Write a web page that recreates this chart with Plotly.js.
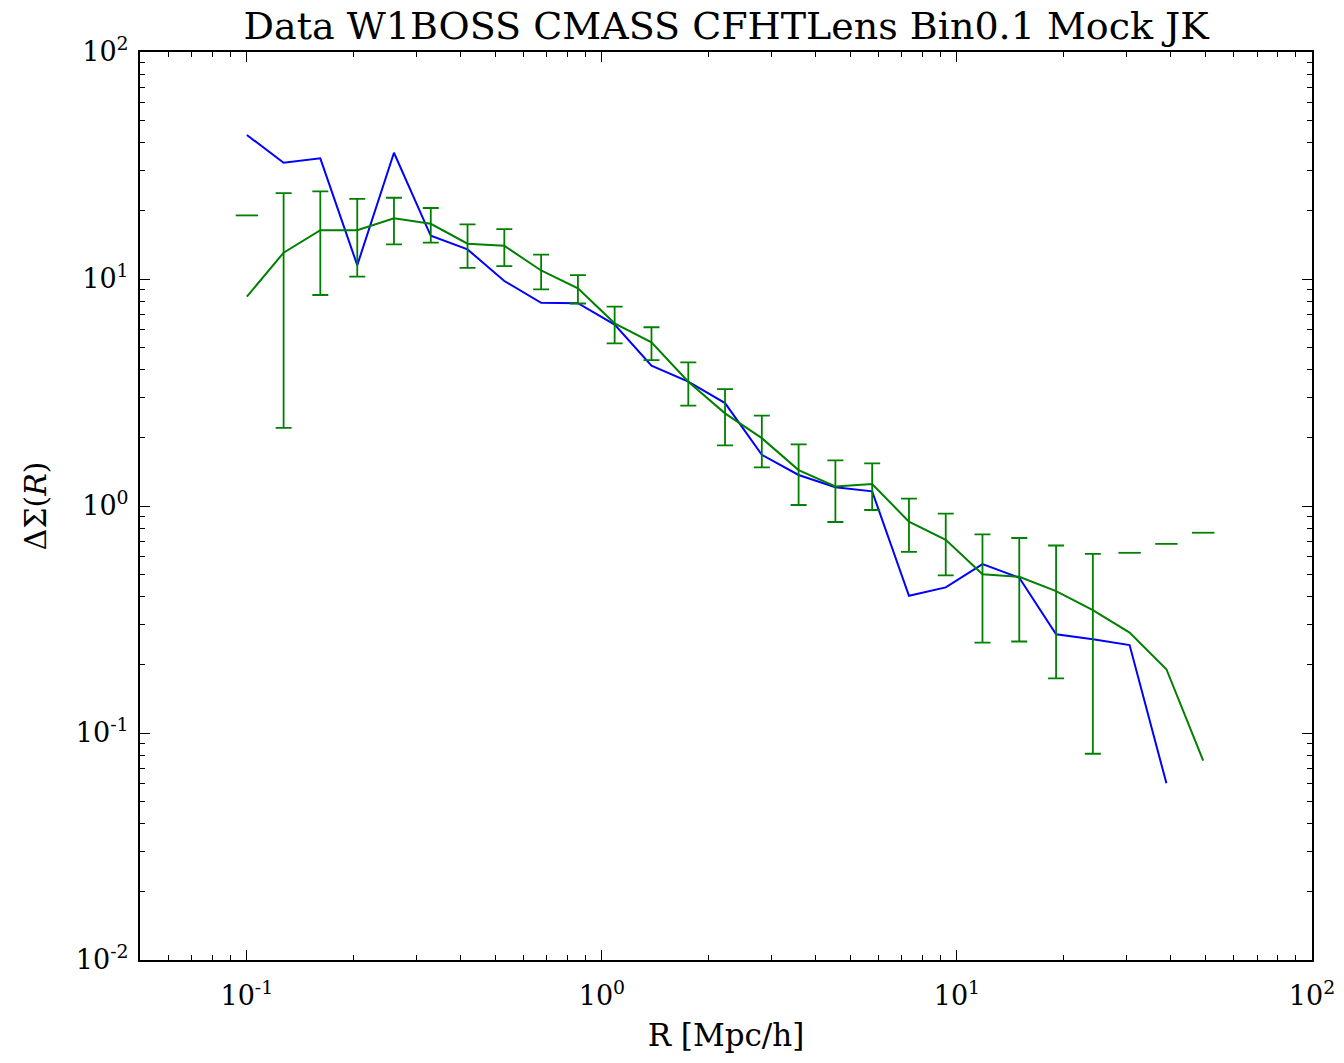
<!DOCTYPE html>
<html><head><meta charset="utf-8">
<script src="https://cdn.plot.ly/plotly-3.0.1.min.js"></script>
<style>html,body{margin:0;padding:0;background:#fff}#chart{width:1344px;height:1063px}</style>
</head><body><div id="chart"></div>
<script>
// Radial bins R [Mpc/h]
const R = [0.1, 0.1269, 0.1610, 0.2046, 0.2596, 0.3296, 0.4183, 0.5310, 0.6742, 0.8559,
           1.086, 1.379, 1.751, 2.222, 2.821, 3.581, 4.546, 5.770, 7.325, 9.298,
           11.80, 14.98, 19.02, 24.14, 30.64, 38.90, 49.38];
// Blue curve (mock)
const mockDS = [43.1, 32.5, 34.0, 11.5, 36.0, 15.5, 13.5, 9.8, 7.86, 7.82,
                6.3, 4.15, 3.53, 2.84, 1.68, 1.37, 1.21, 1.16, 0.402, 0.438,
                0.555, 0.483, 0.272, 0.259, 0.244, 0.060];
// Green curve (data) with jackknife errors
const dataDS = [8.36, 13.06, 16.4, 16.4, 18.5, 17.5, 14.3, 14.0, 10.9, 9.10,
                6.38, 5.26, 3.53, 2.56, 1.99, 1.44, 1.22, 1.25, 0.853, 0.71,
                0.50, 0.488, 0.422, 0.348, 0.277, 0.191, 0.0755];
const dataErr = [10.7, 10.85, 7.9, 6.15, 4.3, 3.05, 3.1, 2.6, 1.9, 1.3,
                 1.17, 0.87, 0.76, 0.71, 0.51, 0.43, 0.37, 0.29, 0.225, 0.215,
                 0.25, 0.235, 0.248, 0.267, 0.345, 0.49, 0.687];

const xTickVals = [0.1, 1, 10, 100];
const xTickText = ['10<sup>-1</sup>', '10<sup>0</sup>', '10<sup>1</sup>', '10<sup>2</sup>'];
const yTickVals = [0.01, 0.1, 1, 10, 100];
const yTickText = ['10<sup>-2</sup>', '10<sup>-1</sup>', '10<sup>0</sup>', '10<sup>1</sup>', '10<sup>2</sup>'];

function minorVals(lo, hi) {
  const out = [];
  for (let e = lo; e < hi; e++) for (let m = 2; m <= 9; m++) out.push(m * Math.pow(10, e));
  return out;
}

const GREEN = '#008000', BLUE = '#0000ff';
const FONT = 'DejaVu Serif, Liberation Serif, serif';

// split error bars: full bars where lower bound > 0, cap only otherwise
const ebX = [], ebY = [], ebE = [], capX = [], capY = [];
for (let i = 0; i < R.length; i++) {
  if (dataDS[i] - dataErr[i] > 0) { ebX.push(R[i]); ebY.push(dataDS[i]); ebE.push(dataErr[i]); }
  else { capX.push(R[i]); capY.push(dataDS[i] + dataErr[i]); }
}

const traces = [
  {x: R.slice(0, mockDS.length), y: mockDS, mode: 'lines', line: {color: BLUE, width: 2}, hoverinfo: 'skip'},
  {x: R, y: dataDS, mode: 'lines', line: {color: GREEN, width: 2}, hoverinfo: 'skip'},
  {x: ebX, y: ebY, mode: 'markers', marker: {size: 1, color: 'rgba(0,0,0,0)'},
   error_y: {type: 'data', array: ebE, arrayminus: ebE, symmetric: false, color: GREEN, thickness: 1.8, width: 8},
   hoverinfo: 'skip'},
  {x: capX, y: capY, mode: 'markers', marker: {symbol: 'line-ew', size: 16, line: {color: GREEN, width: 1.8}}, hoverinfo: 'skip'}
];

const axisCommon = {
  type: 'log', showline: true, linecolor: '#000', linewidth: 2, mirror: 'allticks',
  ticks: 'inside', ticklen: 10, tickwidth: 1, tickcolor: '#000', showgrid: false, zeroline: false,
  tickmode: 'array', tickfont: {family: FONT, size: 27, color: '#000'}
};

const layout = {
  width: 1344, height: 1063,
  margin: {l: 140, r: 32, t: 52, b: 103},
  paper_bgcolor: '#fff', plot_bgcolor: '#fff',
  showlegend: false,
  title: {text: 'Data W1BOSS CMASS CFHTLens Bin0.1 Mock JK', font: {family: FONT, size: 38, color: '#000'},
          x: 0.5403, xanchor: 'center', y: 0.976, yanchor: 'middle'},
  xaxis: Object.assign({}, axisCommon, {
    range: [Math.log10(0.05), 2], tickvals: xTickVals, ticktext: xTickText, ticklabelstandoff: 11,
    minor: {tickmode: 'array', tickvals: minorVals(-2, 2), ticks: 'inside', ticklen: 5, tickwidth: 1, tickcolor: '#000'},
    title: {text: 'R [Mpc/h]', font: {family: FONT, size: 31, color: '#000'}, standoff: 14}
  }),
  yaxis: Object.assign({}, axisCommon, {
    range: [-2, 2], tickvals: yTickVals, ticktext: yTickText, ticklabelstandoff: 4,
    minor: {tickmode: 'array', tickvals: minorVals(-2, 2), ticks: 'inside', ticklen: 5, tickwidth: 1, tickcolor: '#000'},
    title: {text: 'ΔΣ(<i>R</i>)', font: {family: FONT, size: 30, color: '#000'}, standoff: 20}
  })
};

Plotly.newPlot('chart', traces, layout, {displayModeBar: false, staticPlot: true});
</script>
</body></html>
